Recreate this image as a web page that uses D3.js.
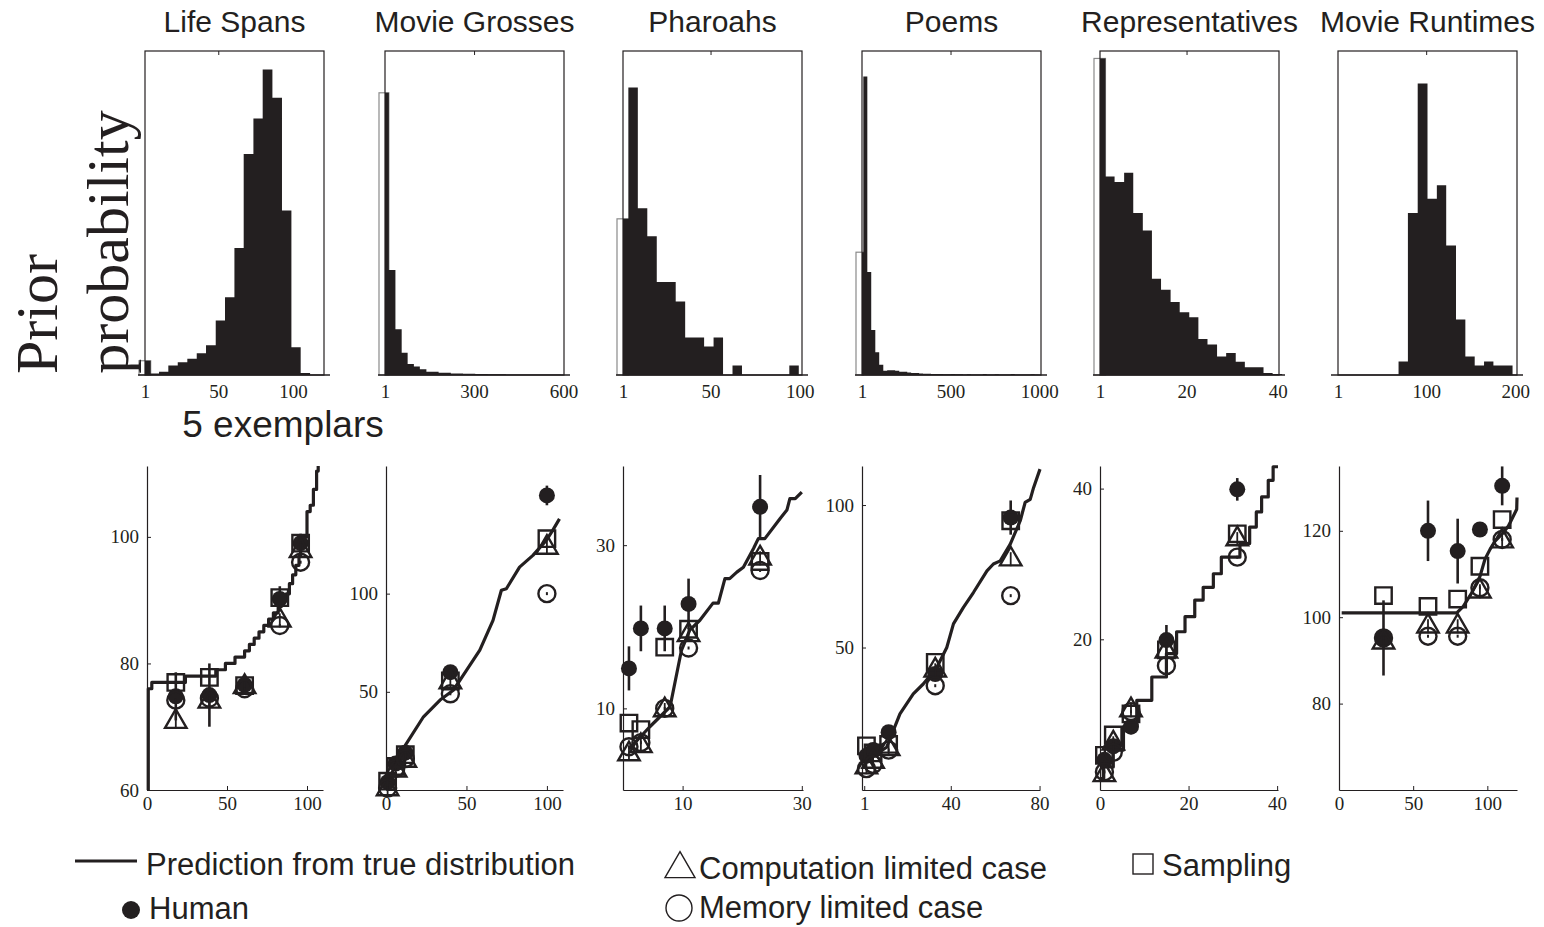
<!DOCTYPE html>
<html>
<head>
<meta charset="utf-8">
<script src="https://cdn.jsdelivr.net/npm/d3@7"></script>
<style>
  body { margin: 0; background: #fff; }
  text { fill: #231f20; }
</style>
</head>
<body>
<svg id="fig" width="1544" height="927"></svg>
<script>
// ---- panel titles and tick labels ----
const titles = ["Life Spans", "Movie Grosses", "Pharoahs", "Poems", "Representatives", "Movie Runtimes"];
const histTicks = [[1, 50, 100], [1, 300, 600], [1, 50, 100], [1, 500, 1000], [1, 20, 40], [1, 100, 200]];
const histDomains = [[1, 120.7], [1, 602], [1, 101.2], [1, 1010], [1, 40.3], [1, 202]];

// ---- prior histograms (bin edges + relative heights, % of panel) ----
const lifeEdges = [1, 4.8, 10.4, 16.6, 22.9, 29.3, 35.6, 41.8, 48.3, 54.5, 60.8, 67, 73.5, 79.7, 86.2, 92.6, 98.9, 105.1, 111.4];
const lifeHeights = [4.4, 0.5, 1.0, 2.9, 3.9, 5.0, 6.7, 9.2, 16.8, 24.0, 39.2, 68.2, 79.2, 94.3, 85.6, 50.8, 8.6, 0.6];
const grossEdges = [1, 14, 36, 57, 77, 98, 118, 140, 160, 181, 202, 222, 243, 263, 284, 304, 325, 346, 366, 387, 407, 428, 448, 469, 490, 510, 531, 551, 572, 592];
const grossHeights = [87.1, 32.4, 14.1, 6.9, 3.4, 2.6, 1.8, 1.0, 1.0, 0.7, 0.7, 0.5, 0.5, 0.4, 0.4, 0.3, 0.3, 0.2, 0.2, 0.2, 0.1, 0.1, 0.1, 0.1, 0.1, 0.1, 0.1, 0.1, 0.1];
const pharEdges = [1, 4, 9.3, 14.6, 19.9, 25.2, 30.5, 35.8, 41.1, 46.4, 51.7, 57, 62.3, 67.6, 72.9, 78.2, 83.5, 88.8, 94.1, 99.4];
const pharHeights = [48.2, 88.7, 51.5, 42.8, 28.7, 28.7, 22.7, 11.6, 11.6, 8.8, 11.6, 0, 2.9, 0, 0, 0, 0, 0, 2.9];
const poemEdges = [1, 8.5, 31, 53, 76, 98, 121, 143, 166, 188, 211, 233, 256, 278, 300, 323, 345, 368, 390, 413, 435, 458, 480, 502, 525, 547, 570, 592, 615, 637, 660, 682, 704, 727, 749, 772, 794, 817, 839, 862, 884, 906, 929, 951, 974, 996];
const poemHeights = [37.9, 92.1, 31.8, 13.9, 7.0, 3.2, 1.3, 1.5, 1.5, 1.3, 1.0, 1.0, 0.8, 0.6, 0.6, 0.5, 0.4, 0.4, 0.3, 0.3, 0.3, 0.2, 0.2, 0.3, 0.2, 0.2, 0.1, 0.2, 0.1, 0.1, 0.1, 0.3, 0.1, 0.1, 0.2, 0.1, 0.1, 0.1, 0.3, 0.1, 0.1, 0.1, 0.1, 0.2, 0.1];
const repEdges = [1, 2.2, 4.2, 6.3, 8.3, 10.4, 12.4, 14.4, 16.5, 18.5, 20.6, 22.6, 24.6, 26.7, 28.7, 30.8, 32.8, 34.8, 36.9, 38.9, 41];
const repHeights = [97.7, 61.3, 59.6, 62.4, 50, 44.6, 29.7, 26.3, 22.5, 19.4, 17.8, 11.1, 9.4, 5.7, 6.8, 4.1, 2.4, 2.4, 0.6, 0.3];
const runEdges = [69, 79.5, 90.5, 101.5, 112, 122.5, 133.5, 144, 154.5, 165, 175.5, 186, 197];
const runHeights = [4.2, 50, 90, 54.4, 58.6, 40, 17.1, 5.7, 2.9, 4.2, 2.9, 2.9];
// grey outline of the first bin (drawn just left of the axis in the original)
const ghostHeights = [4.4, 87.1, 48.2, 37.9, 97.7, 0];

// ---- 5 exemplars: predictions vs. data ----
const predDomainsX = [[0, 110], [0, 110], [0, 30.2], [0, 80.2], [0, 40.2], [0, 120]];
const predDomainsY = [[60, 111.2], [0, 165], [0, 39.7], [0, 113.7], [0, 43], [60, 135]];
const predTicksX = [[0, 50, 100], [0, 50, 100], [10, 30], [1, 40, 80], [0, 20, 40], [0, 50, 100]];
const predTicksY = [[60, 80, 100], [50, 100], [10, 30], [50, 100], [20, 40], [80, 100, 120]];

const lifePred = [[0.8, 60], [0.8, 76], [3, 77], [24, 78], [43, 79], [49, 80], [55, 81], [61, 82], [64, 83], [67, 84], [70, 85], [73, 86], [76, 87], [79, 88], [82, 89], [84, 90], [87, 91], [89, 92.6], [91, 94], [93, 95.5], [95, 97], [96, 98.4], [98, 100], [100, 104], [102, 105], [104, 107.5], [106, 110.4], [107, 111.2]];
const grossPred = [[0, 1.5], [8.8, 18.6], [23.3, 37.3], [33.6, 45.8], [41.8, 50.8], [50.1, 61], [58.3, 71.2], [66.5, 86.4], [71.7, 101.7], [74.8, 102.5], [83, 113.5], [91.3, 119.5], [99.6, 127.1], [103.6, 132.2], [107.8, 138.1]];
const pharPred = [[1, 5], [4.5, 7.75], [7.9, 10.2], [9.8, 17.1], [11.2, 19.6], [12.9, 20.8], [15.1, 22.9], [16, 22.9], [17.1, 25.9], [17.9, 25.9], [19.1, 26.7], [20.2, 27.3], [21.9, 29.6], [22.7, 30.8], [23.8, 30.8], [26.4, 33.3], [27.5, 34.3], [28, 35.7], [28.9, 35.7], [30, 36.5]];
const poemPred = [[1, 8], [2.1, 10.3], [11.1, 15], [17.1, 26.7], [23.1, 33.7], [27.6, 37.2], [33.7, 43], [38.2, 50], [41.2, 58.3], [45.7, 64.1], [50.2, 69.3], [56.3, 76.9], [59.2, 79.3], [62.3, 80.4], [66.8, 86.3], [71.3, 94.5], [73.5, 100.9], [75.8, 102], [77.3, 106.1], [80.2, 112.6]];
const repPred = [[0, 1.5], [0.75, 3.05], [3, 5.3], [5.3, 8.4], [8.3, 11.9], [11.7, 15], [15, 18.1], [17.3, 21], [19.2, 23], [21.4, 25.2], [23.3, 26.9], [25.6, 28.7], [27.4, 30.9], [31.6, 32.7], [33.8, 34.9], [35.3, 36.9], [36.5, 38.9], [38, 41.1], [39.1, 42.9], [40.2, 42.9]];
const runPred = [[1.8, 101], [79.4, 101], [83.8, 102.5], [89.4, 105.6], [95.1, 109.5], [98.4, 113.4], [101.8, 115.7], [105.2, 117.6], [110.8, 119.6], [114.2, 121.1], [116.4, 122.6], [119.8, 125], [120, 127.7]];

const lifeX = [18, 39, 61, 83, 96];
const lifeHuman = [74.8, 75, 76.6, 90.2, 99];
const lifeErr = [3.8, 5, 1.5, 2, 1.5];
const lifeComp = [70.8, 74, 76.3, 86.8, 97.8];
const lifeMem = [74.2, 74.5, 76, 86, 96];
const lifeSamp = [77, 77.8, 76.5, 90.4, 99];

const grossX = [1, 6, 12, 40, 100];
const grossHuman = [4, 13.5, 19, 60, 150];
const grossErr = [1.5, 2.5, 4, 2, 5];
const grossComp = [0.5, 10, 15, 55, 123.5];
const grossMem = [1, 11, 16, 49, 100];
const grossSamp = [4.5, 12, 18, 55.5, 128];

const pharX = [1, 3, 7, 11, 23];
const pharHuman = [14.9, 19.8, 19.8, 22.8, 34.7];
const pharErr = [2.7, 2.8, 2.8, 3.1, 3.9];
const pharComp = [4.4, 5.4, 9.8, 19, 28.4];
const pharMem = [5.3, 5.8, 10, 17.4, 26.9];
const pharSamp = [8.2, 7.4, 17.5, 19.7, 28];

const poemX = [2, 5, 12, 33, 67];
const poemHuman = [12, 14, 20.3, 40.7, 95.6];
const poemErr = [2, 2, 2, 2, 6];
const poemComp = [8, 10, 14.4, 42, 81];
const poemMem = [7.5, 9, 14, 36.6, 68.2];
const poemSamp = [15.5, 13, 16, 44.8, 94.5];

const repX = [1, 3, 7, 15, 31];
const repHuman = [4, 5.8, 8.4, 19.9, 39.9];
const repErr = [1, 1, 1, 2, 1.5];
const repComp = [2, 6.2, 10.6, 18.4, 33.3];
const repMem = [2.4, 5, 10.4, 16.5, 30.9];
const repSamp = [4.6, 7.3, 10.1, 18.6, 34];

const runX = [30, 60, 80, 95, 110];
const runHuman = [95.2, 120, 115.3, 120.3, 130.4];
const runErr = [8.7, 7, 7.5, 1, 4.5];
const runComp = [94.2, 97.9, 97.9, 106, 117.6];
const runMem = [95.2, 95.6, 95.6, 106.8, 118];
const runSamp = [105, 102.5, 104.2, 111.8, 122.6];

const legendLabels = ["Prediction from true distribution", "Human", "Computation limited case", "Memory limited case", "Sampling"];

// ---- tables built from the arrays above ----
const hists = [
  [lifeEdges, lifeHeights], [grossEdges, grossHeights], [pharEdges, pharHeights],
  [poemEdges, poemHeights], [repEdges, repHeights], [runEdges, runHeights]
];
const preds = [lifePred, grossPred, pharPred, poemPred, repPred, runPred];
const stepped = [true, false, false, false, true, false];
const points = [
  [lifeX, lifeHuman, lifeErr, lifeComp, lifeMem, lifeSamp],
  [grossX, grossHuman, grossErr, grossComp, grossMem, grossSamp],
  [pharX, pharHuman, pharErr, pharComp, pharMem, pharSamp],
  [poemX, poemHuman, poemErr, poemComp, poemMem, poemSamp],
  [repX, repHuman, repErr, repComp, repMem, repSamp],
  [runX, runHuman, runErr, runComp, runMem, runSamp]
];

// ---- layout ----
const INK = "#231f20";
const SANS = "'Liberation Sans', Arial, Helvetica, sans-serif";
const SERIF = "'Liberation Serif', 'Times New Roman', serif";
const panelW = 179;
const histLeft = [145, 385, 623, 862, 1100, 1338];
const histTop = 51, histBottom = 375;
const predLeft = [147, 386, 623, 862, 1100, 1339];
const predW = [176, 177, 180, 178, 178, 178];
const predTop = 466, predBottom = 790;
const fmt = d3.format("d");

const svg = d3.select("#fig");

function styleTicks(g) {
  g.selectAll(".tick text")
    .attr("font-family", SERIF)
    .attr("font-size", 19)
    .attr("fill", INK);
  g.selectAll(".tick line").attr("stroke", INK).attr("stroke-width", 1);
  g.select(".domain").attr("stroke", INK).attr("stroke-width", 1.2);
}

// ---- top row: prior histograms ----
hists.forEach(([edges, heights], i) => {
  const left = histLeft[i];
  const x = d3.scaleLinear().domain(histDomains[i]).range([left, left + panelW]);
  const y = d3.scaleLinear().domain([0, 100]).range([histBottom, histTop]);
  const g = svg.append("g");

  svg.append("text")
    .attr("x", left + panelW / 2)
    .attr("y", 32)
    .attr("text-anchor", "middle")
    .attr("font-family", SANS)
    .attr("font-size", 30)
    .text(titles[i]);

  if (ghostHeights[i] > 0) {
    g.append("rect")
      .attr("x", x(edges[0]) - 6)
      .attr("y", y(ghostHeights[i]))
      .attr("width", x(edges[1]) - x(edges[0]) + 6)
      .attr("height", histBottom - y(ghostHeights[i]))
      .attr("fill", "#fff")
      .attr("stroke", "#8a8a8a")
      .attr("stroke-width", 1.2);
  }

  // bins as one stepped area so neighbouring bars have no seams
  const steps = heights.map((h, k) => [edges[k], h]).concat([[edges[edges.length - 1], 0]]);
  const area = d3.area()
    .x(d => x(d[0]))
    .y0(histBottom)
    .y1(d => y(d[1]))
    .curve(d3.curveStepAfter);
  g.append("path")
    .datum(steps)
    .attr("d", area)
    .attr("fill", INK);

  // frame
  g.append("rect")
    .attr("x", left).attr("y", histTop)
    .attr("width", panelW).attr("height", histBottom - histTop)
    .attr("fill", "none").attr("stroke", INK).attr("stroke-width", 1.2);

  // extended baseline
  g.append("line")
    .attr("x1", left - 7).attr("x2", left + panelW + 6)
    .attr("y1", histBottom).attr("y2", histBottom)
    .attr("stroke", INK).attr("stroke-width", 1.5);

  const ax = g.append("g")
    .attr("transform", `translate(0,${histBottom})`)
    .call(d3.axisBottom(x).tickValues(histTicks[i]).tickFormat(fmt).tickSizeInner(0).tickSizeOuter(0).tickPadding(10));
  ax.select(".domain").remove();
  styleTicks(ax);

  g.append("g")
    .attr("transform", `translate(0,${histTop})`)
    .call(d3.axisTop(x).tickValues(histTicks[i].slice(1, -1)).tickSizeInner(-4).tickSizeOuter(0).tickFormat(""))
    .call(a => a.select(".domain").remove())
    .call(styleTicks);
});

// y label of the histograms
svg.append("text")
  .attr("transform", "translate(57,314) rotate(-90)")
  .attr("text-anchor", "middle")
  .attr("font-family", SERIF)
  .attr("font-size", 60)
  .text("Prior");
svg.append("text")
  .attr("transform", "translate(128,242) rotate(-90)")
  .attr("text-anchor", "middle")
  .attr("font-family", SERIF)
  .attr("font-size", 60)
  .text("probability");

svg.append("text")
  .attr("x", 283)
  .attr("y", 437)
  .attr("text-anchor", "middle")
  .attr("font-family", SANS)
  .attr("font-size", 37)
  .text("5 exemplars");

// ---- bottom row: predictions ----
const triangle = d3.symbol().type(d3.symbolTriangle).size(200);
const square = d3.symbol().type(d3.symbolSquare).size(270);

preds.forEach((pred, i) => {
  const left = predLeft[i];
  const x = d3.scaleLinear().domain(predDomainsX[i]).range([left, left + predW[i]]);
  const y = d3.scaleLinear().domain(predDomainsY[i]).range([predBottom, predTop]);
  const g = svg.append("g");

  const ax = g.append("g")
    .attr("transform", `translate(0,${predBottom})`)
    .call(d3.axisBottom(x).tickValues(predTicksX[i]).tickFormat(fmt).tickSizeInner(-4).tickSizeOuter(0).tickPadding(7));
  styleTicks(ax);
  const ay = g.append("g")
    .attr("transform", `translate(${left},0)`)
    .call(d3.axisLeft(y).tickValues(predTicksY[i]).tickFormat(fmt).tickSizeInner(-4).tickSizeOuter(0).tickPadding(8));
  styleTicks(ay);

  const line = d3.line()
    .x(d => x(d[0]))
    .y(d => y(d[1]))
    .curve(stepped[i] ? d3.curveStepAfter : d3.curveLinear);
  g.append("path")
    .datum(pred)
    .attr("d", line)
    .attr("fill", "none")
    .attr("stroke", INK)
    .attr("stroke-width", 3.2)
    .attr("stroke-linejoin", "round");

  const [xs, human, err, comp, mem, samp] = points[i];
  const rows = xs.map((v, k) => ({ x: v, human: human[k], err: err[k], comp: comp[k], mem: mem[k], samp: samp[k] }));

  const m = g.selectAll("g.pt").data(rows).enter().append("g").attr("class", "pt");

  // human error bars
  m.append("line")
    .attr("x1", d => x(d.x)).attr("x2", d => x(d.x))
    .attr("y1", d => y(d.human - d.err)).attr("y2", d => y(d.human + d.err))
    .attr("stroke", INK).attr("stroke-width", 2.6);
  m.append("circle")
    .attr("cx", d => x(d.x)).attr("cy", d => y(d.human))
    .attr("r", 8).attr("fill", INK);

  // sampling
  m.append("path")
    .attr("d", square)
    .attr("transform", d => `translate(${x(d.x)},${y(d.samp)})`)
    .attr("fill", "none").attr("stroke", INK).attr("stroke-width", 2.4);
  // computation limited
  m.append("path")
    .attr("d", triangle)
    .attr("transform", d => `translate(${x(d.x)},${y(d.comp)})`)
    .attr("fill", "none").attr("stroke", INK).attr("stroke-width", 2.4);
  m.append("line")
    .attr("x1", d => x(d.x)).attr("x2", d => x(d.x))
    .attr("y1", d => y(d.comp) - 7).attr("y2", d => y(d.comp) + 7)
    .attr("stroke", INK).attr("stroke-width", 1.8);
  // memory limited
  m.append("circle")
    .attr("cx", d => x(d.x)).attr("cy", d => y(d.mem))
    .attr("r", 8.5).attr("fill", "none").attr("stroke", INK).attr("stroke-width", 2.4);
  m.append("line")
    .attr("x1", d => x(d.x)).attr("x2", d => x(d.x))
    .attr("y1", d => y(d.mem) - 1.5).attr("y2", d => y(d.mem) + 1.5)
    .attr("stroke", INK).attr("stroke-width", 2);
});

// ---- legend ----
const leg = svg.append("g").attr("font-family", SANS).attr("font-size", 31);
leg.append("line")
  .attr("x1", 75).attr("x2", 137).attr("y1", 861).attr("y2", 861)
  .attr("stroke", INK).attr("stroke-width", 3);
leg.append("text").attr("x", 146).attr("y", 875).text(legendLabels[0]);
leg.append("circle").attr("cx", 131).attr("cy", 910).attr("r", 9).attr("fill", INK);
leg.append("text").attr("x", 149).attr("y", 919).text(legendLabels[1]);
leg.append("path")
  .attr("d", d3.symbol().type(d3.symbolTriangle).size(390))
  .attr("transform", "translate(680,869)")
  .attr("fill", "none").attr("stroke", INK).attr("stroke-width", 1.4);
leg.append("text").attr("x", 699).attr("y", 879).text(legendLabels[2]);
leg.append("circle").attr("cx", 679).attr("cy", 908).attr("r", 13)
  .attr("fill", "none").attr("stroke", INK).attr("stroke-width", 1.4);
leg.append("text").attr("x", 699).attr("y", 918).text(legendLabels[3]);
leg.append("rect").attr("x", 1133).attr("y", 854).attr("width", 20).attr("height", 20)
  .attr("fill", "none").attr("stroke", INK).attr("stroke-width", 1.4);
leg.append("text").attr("x", 1162).attr("y", 876).text(legendLabels[4]);
</script>
</body>
</html>
